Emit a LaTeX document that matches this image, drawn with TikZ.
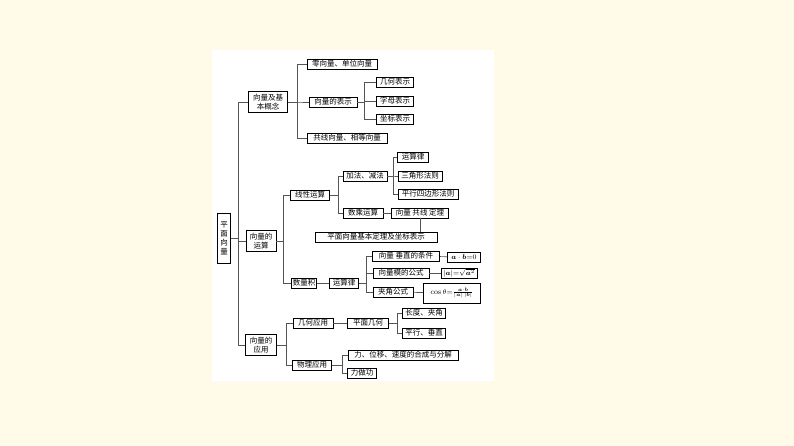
\documentclass[tikz,border=0pt]{standalone}
\usepackage{amsmath}
\usepackage{fontspec}
\newfontfamily\cjk{Noto Sans CJK SC}
\definecolor{cream}{HTML}{FFFBE8}
\definecolor{lnc}{HTML}{555555}
\tikzset{bx/.style={draw=black,line width=0.6pt,fill=white,inner sep=0.8pt,font=\cjk\fontsize{7.5}{9}\selectfont,minimum height=10,align=center},
ln/.style={draw=lnc,line width=0.7pt}}
\begin{document}
\begin{tikzpicture}[x=1pt,y=-1pt]
\useasboundingbox (0,0) rectangle (794,446);
\fill[cream] (0,0) rectangle (794,446);
\fill[white] (212,50) rectangle (494,381);
% nodes
\node[bx,minimum width=13,minimum height=50] (root) at (224,238) {平\\面\\向\\量};
\node[bx,minimum width=39,minimum height=21] (gn) at (268,102) {向量及基\\本概念};
\node[bx,minimum width=70] (zero) at (342,64) {零向量、单位向量};
\node[bx,minimum width=48] (bs) at (333,102) {向量的表示};
\node[bx,minimum width=37] (jh) at (395,82) {几何表示};
\node[bx,minimum width=37] (zm) at (395,101) {字母表示};
\node[bx,minimum width=37] (zb) at (395,119) {坐标表示};
\node[bx,minimum width=80] (gx1) at (347,138) {共线向量、相等向量};
\node[bx,minimum width=30,minimum height=21] (ys) at (261,241) {向量的\\运算};
\node[bx,minimum width=39] (xx) at (310,195) {线性运算};
\node[bx,minimum width=44] (jf) at (365,176) {加法、减法};
\node[bx,minimum width=31] (ysl1) at (413,157) {运算律};
\node[bx,minimum width=44] (sjx) at (420,176) {三角形法则};
\node[bx,minimum width=60] (pxs) at (428,194) {平行四边形法则};
\node[bx,minimum width=40] (sc) at (363,213) {数乘运算};
\node[bx,minimum width=57] (gxd) at (420,213) {向量 共线 定理};
\node[bx,minimum width=122] (pm) at (376,237) {平面向量基本定理及坐标表示};
\node[bx,minimum width=25] (slj) at (304,283) {数量积};
\node[bx,minimum width=29] (ysl2) at (344,283) {运算律};
\node[bx,minimum width=67] (cz) at (406,256) {向量 垂直的条件};
\node[bx,minimum width=33] (cz2) at (464,257) {$\boldsymbol a\cdot\boldsymbol b{=}0$};
\node[bx,minimum width=56] (mo) at (401,273) {向量模的公式};
\node[bx,minimum width=36] (mo2) at (459,273) {$|\boldsymbol a|{=}\sqrt{\boldsymbol a^2}$};
\node[bx,minimum width=40] (jj) at (393,292) {夹角公式};
\node[bx,minimum width=57,minimum height=20] (jj2) at (452,293) {$\cos\theta{=}\frac{\boldsymbol a\cdot\boldsymbol b}{|\boldsymbol a|\,|\boldsymbol b|}$};
\node[bx,minimum width=31,minimum height=21] (yy) at (261,345) {向量的\\应用};
\node[bx,minimum width=40] (jhy) at (313,323) {几何应用};
\node[bx,minimum width=41] (pmj) at (368,323) {平面几何};
\node[bx,minimum width=43] (cd) at (424,313) {长度、夹角};
\node[bx,minimum width=43] (px) at (424,333) {平行、垂直};
\node[bx,minimum width=39] (wl) at (312,365) {物理应用};
\node[bx,minimum width=110] (lw) at (403,355) {力、位移、速度的合成与分解};
\node[bx,minimum width=29] (lz) at (362,373) {力做功};
% bracket x coords
\coordinate (b0) at (238,0); \coordinate (b1) at (297,0); \coordinate (b2) at (364,0);
\coordinate (b3) at (283,0); \coordinate (b4) at (338,0); \coordinate (b5) at (393,0);
\coordinate (b6) at (366,0); \coordinate (b7) at (286,0); \coordinate (b8) at (397,0);
\coordinate (b9) at (342,0);
\begin{scope}[on background layer/.style={}]
\foreach \p/\b/\c in {root/b0/gn,root/b0/ys,root/b0/yy,
 gn/b1/zero,gn/b1/bs,gn/b1/gx1, bs/b2/jh,bs/b2/zm,bs/b2/zb,
 ys/b3/xx,ys/b3/slj, xx/b4/jf,xx/b4/sc, jf/b5/ysl1,jf/b5/sjx,jf/b5/pxs,
 ysl2/b6/cz,ysl2/b6/mo,ysl2/b6/jj, yy/b7/jhy,yy/b7/wl, pmj/b8/cd,pmj/b8/px,
 wl/b9/lw,wl/b9/lz}
 \draw[ln] (\p.east) -- (\p.east -| \b) |- (\c.west);
\end{scope}
\draw[ln] (sc) -- (gxd);
\draw[ln] (gxd.south) -- (gxd.south |- pm.north);
\draw[ln] (slj) -- (ysl2);
\draw[ln] (cz) -- (cz2);
\draw[ln] (mo) -- (mo2);
\draw[ln] (jj) -- (jj2);
\draw[ln] (jhy) -- (pmj);
\end{tikzpicture}
\end{document}
